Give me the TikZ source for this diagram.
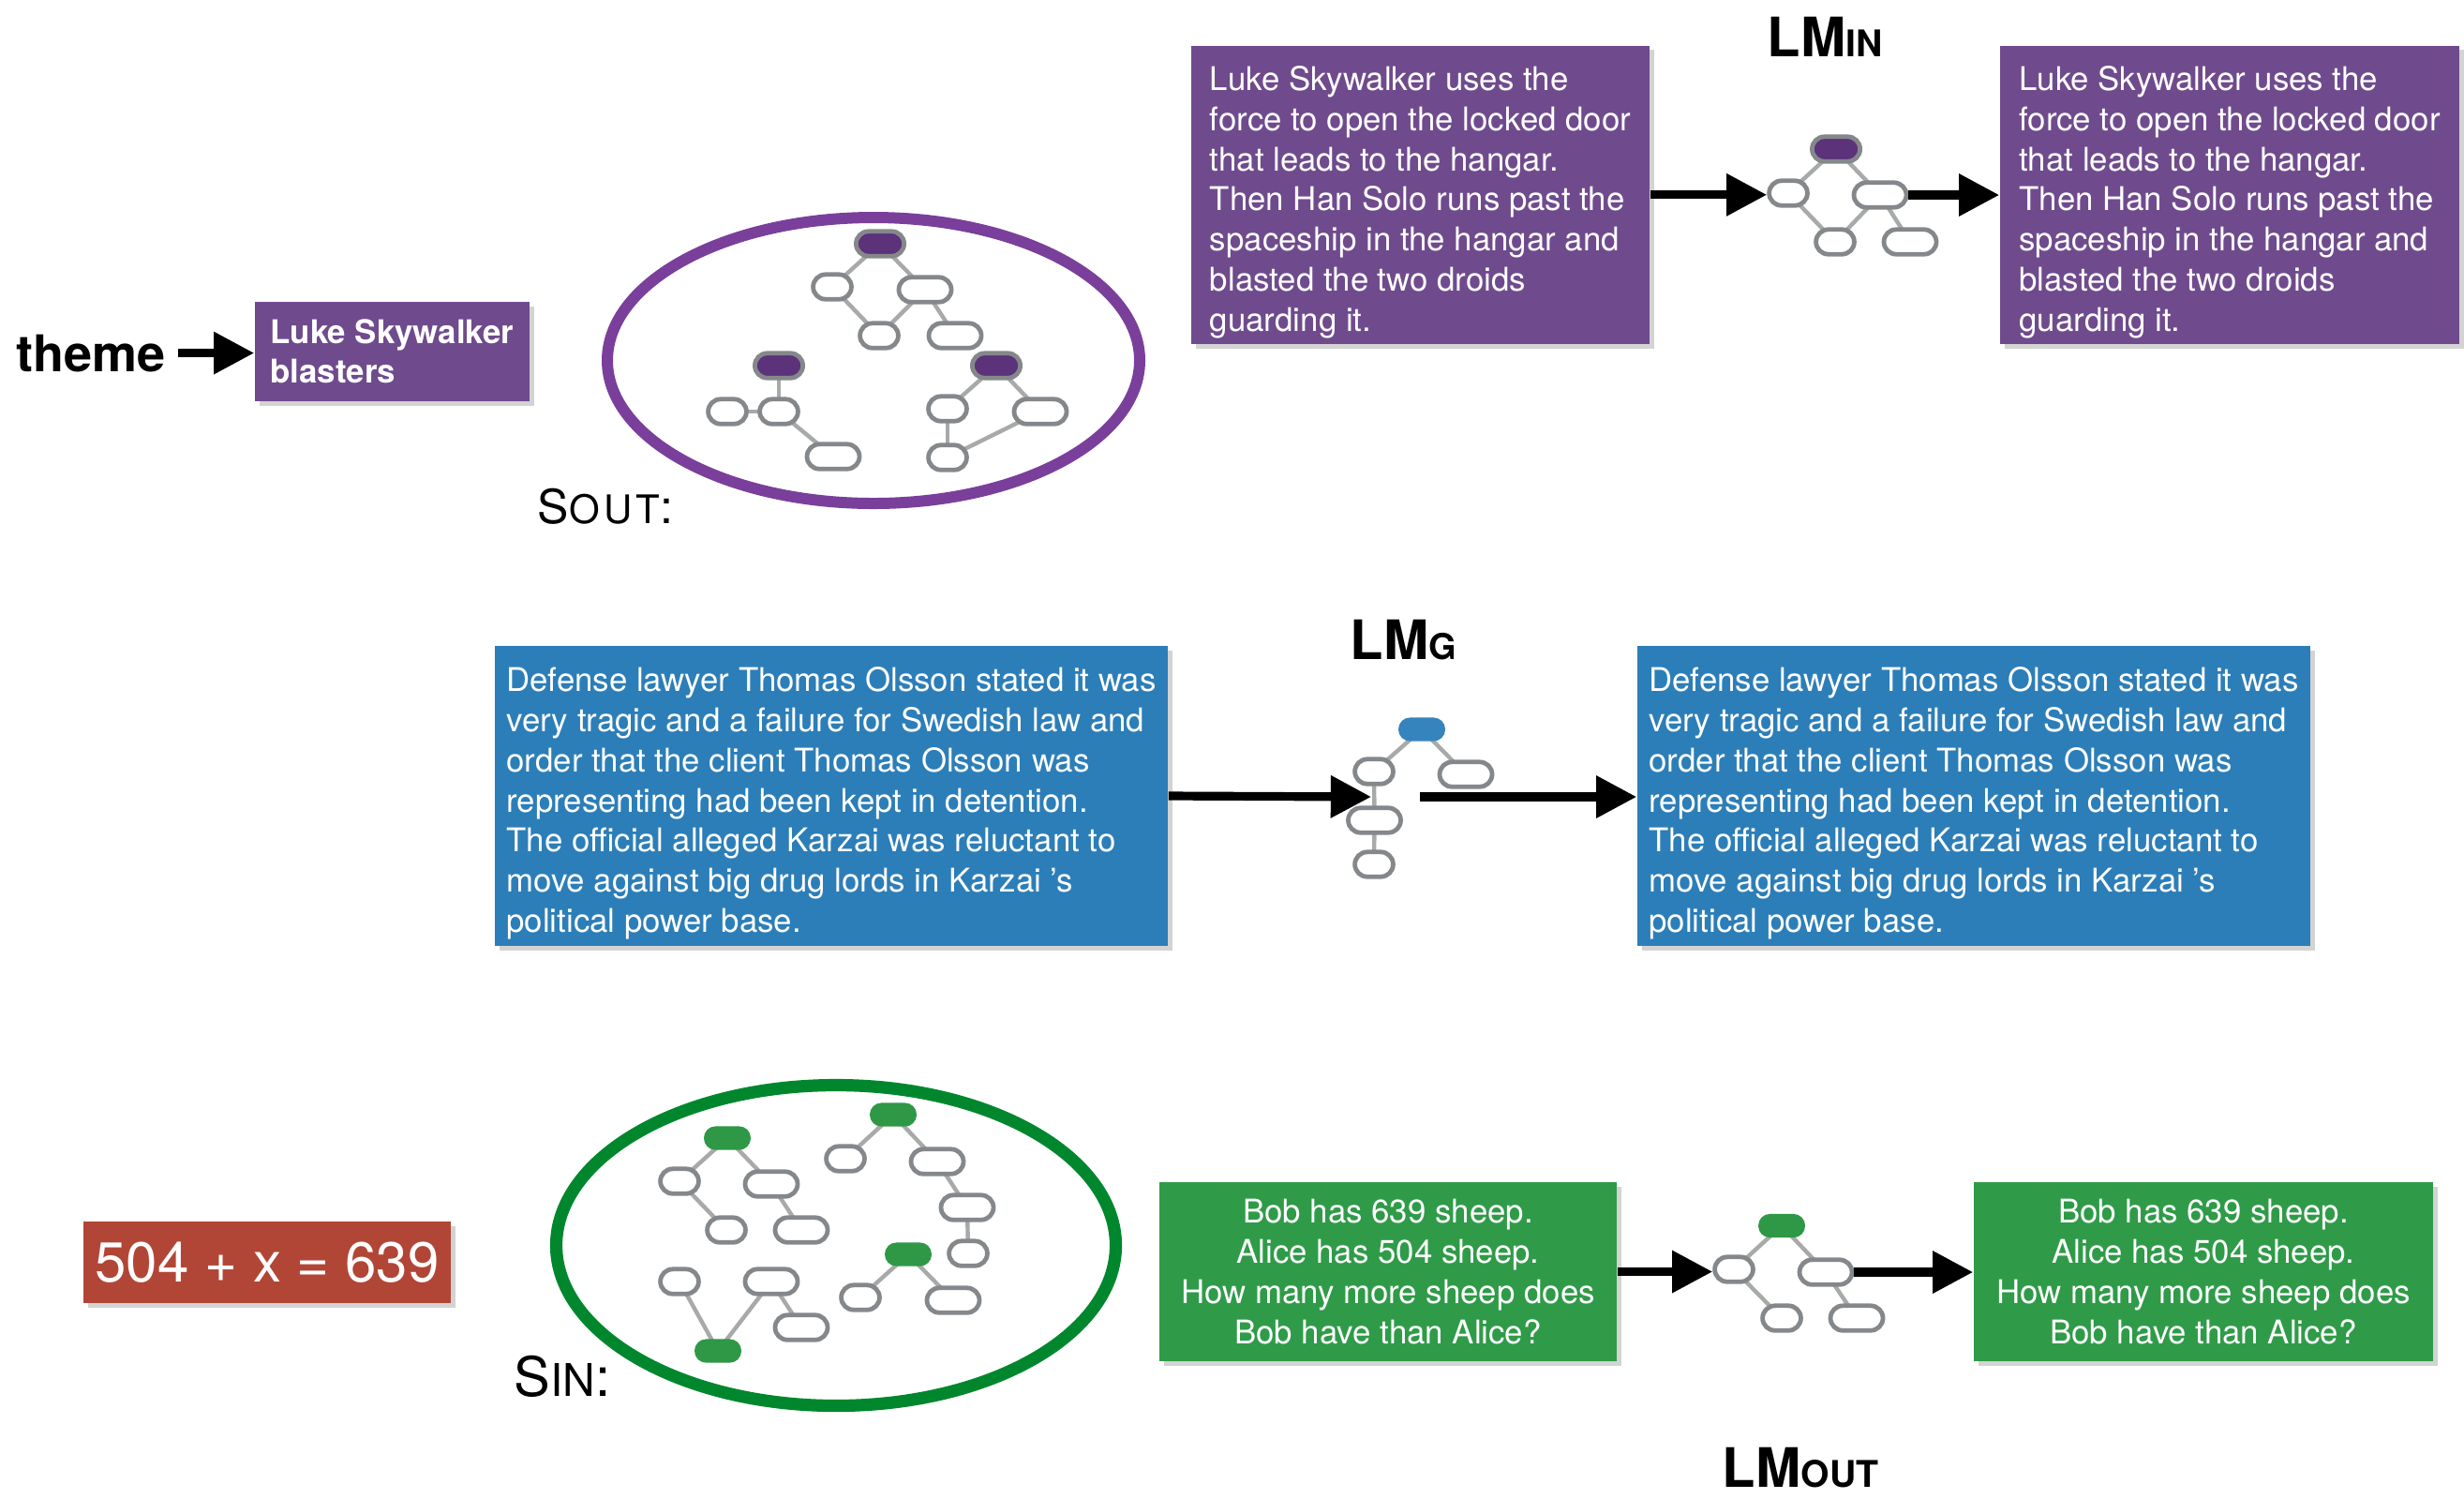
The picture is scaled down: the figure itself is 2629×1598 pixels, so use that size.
\documentclass[tikz,border=0pt]{standalone}
\usepackage{fontspec}
\setmainfont{TeX Gyre Heros}
\usetikzlibrary{arrows.meta,shadows,backgrounds}

\definecolor{boxpurple}{RGB}{111,75,141}
\definecolor{ringpurple}{RGB}{122,63,155}
\definecolor{rootpurple}{RGB}{92,50,122}
\definecolor{boxblue}{RGB}{44,126,184}
\definecolor{rootblue}{RGB}{54,132,190}
\definecolor{boxgreen}{RGB}{47,155,72}
\definecolor{ringgreen}{RGB}{0,135,45}
\definecolor{rootgreen}{RGB}{46,152,70}
\definecolor{boxred}{RGB}{178,70,54}
\definecolor{nodegray}{RGB}{133,136,139}
\definecolor{edgegray}{RGB}{167,170,168}

% taller first line, pushes the story text a little down in its box
\newcommand{\toprule}{\rule{0pt}{10.4pt}}

\tikzset{
  card/.style={fill=#1, text=white, inner xsep=3pt, inner ysep=0pt,
    drop shadow={shadow xshift=1.2pt, shadow yshift=-1.2pt, opacity=0.35}},
  story/.style={font=\fontsize{8.7}{10.7}\selectfont},
  tnode/.style={draw=nodegray, line width=1.2pt, fill=white, rounded corners=3.3pt,
    minimum height=6.6pt, inner sep=0pt},
  tsmall/.style={tnode, minimum width=10.2pt},
  twide/.style={tnode, minimum width=14pt},
  troot/.style={tnode, minimum width=12.8pt, fill=#1},
  tfill/.style={fill=#1, rounded corners=3.1pt, minimum width=12.5pt,
    minimum height=6.3pt, inner sep=0pt},
  tedge/.style={draw=edgegray, line width=1.1pt},
  fat/.style={line width=2.3pt, -{Triangle[length=10.8pt,width=10.8pt]}},
  lm/.style={font=\fontsize{14.5}{14.5}\selectfont\bfseries, inner sep=0pt, anchor=base west},
  setname/.style={font=\fontsize{12.5}{12.5}\selectfont, inner sep=0pt, anchor=base west},
}

\begin{document}
\begin{tikzpicture}[x=0.25pt,y=0.25pt,yscale=-1,xscale=1]
\useasboundingbox (0,0) rectangle (2629,1598);

% top row: theme, output set, LM_in
\node[font=\fontsize{13.5}{13.5}\selectfont\bfseries, inner sep=0pt, anchor=base west] (theme) at (17,396) {theme};
\node[card=boxpurple, font=\fontsize{8.7}{10.5}\selectfont\bfseries, align=left,
  minimum width=73.25pt, minimum height=26.5pt] (blaster) at (418.5,375) {Luke Skywalker\\blasters};
\draw[fat, shorten <=3.2pt] (theme.east) -- (theme.east -| blaster.west);

\draw[ringpurple, line width=3pt] (932,384.5) ellipse [x radius=284, y radius=152.5];
\node[setname] (sout) at (573,558) {S{\fontsize{10.5}{10.5}\selectfont\addfontfeature{LetterSpace=10}OUT}:};

\node[troot=rootpurple] (o1r) at (939,260) {};
\node[tsmall] (o1a) at (888,306) {};
\node[twide] (o1b) at (987,309) {};
\node[tsmall] (o1c) at (938,358) {};
\node[twide] (o1d) at (1019,358) {};
\node[troot=rootpurple] (o2r) at (831,390) {};
\node[tsmall] (o2a) at (776,439) {};
\node[tsmall] (o2b) at (831,439) {};
\node[twide] (o2c) at (889,487) {};
\node[troot=rootpurple] (o3r) at (1063,390) {};
\node[tsmall] (o3a) at (1011,436) {};
\node[twide] (o3b) at (1110,439) {};
\node[tsmall] (o3c) at (1011,488) {};

\node[card=boxpurple, story, align=left, minimum width=122.25pt, minimum height=79.6pt] (instory) at (1515.5,207.8)
  {\toprule Luke Skywalker uses the\\force to open the locked door\\that leads to the hangar.\\Then Han Solo runs past the\\spaceship in the hangar and\\blasted the two droids\\guarding it.};
\node[card=boxpurple, story, align=left, minimum width=122.5pt, minimum height=79.6pt] (outstory) at (2379,207.8)
  {\toprule Luke Skywalker uses the\\force to open the locked door\\that leads to the hangar.\\Then Han Solo runs past the\\spaceship in the hangar and\\blasted the two droids\\guarding it.};
\node[lm] (lmin) at (1885,60) {LM{\fontsize{9.8}{9.8}\selectfont IN}};

\node[troot=rootpurple] (ir) at (1959,159) {};
\node[tsmall] (ia) at (1908,206) {};
\node[twide] (ib) at (2006,208) {};
\node[tsmall] (ic) at (1958,258) {};
\node[twide] (id) at (2038,258) {};
\draw[fat] (instory.east) -- (instory.east -| ia.west);
\draw[fat] (ib.east) -- (ib.east -| outstory.west);

% middle row: LM_g
\node[card=boxblue, story, align=left, minimum width=179.5pt, minimum height=80pt] (gin) at (887,849)
  {\toprule Defense lawyer Thomas Olsson stated it was\\very tragic and a failure for Swedish law and\\order that the client Thomas Olsson was\\representing had been kept in detention.\\The official alleged Karzai was reluctant to\\move against big drug lords in Karzai 's\\political power base.};
\node[card=boxblue, story, align=left, minimum width=179.5pt, minimum height=80pt] (gout) at (2106,849)
  {\toprule Defense lawyer Thomas Olsson stated it was\\very tragic and a failure for Swedish law and\\order that the client Thomas Olsson was\\representing had been kept in detention.\\The official alleged Karzai was reluctant to\\move against big drug lords in Karzai 's\\political power base.};
\node[lm] (lmg) at (1440,703) {LM{\fontsize{9.5}{9.5}\selectfont G}};

\node[tfill=rootblue] (gr) at (1517,778) {};
\node[tsmall] (ga) at (1466,823) {};
\node[twide] (gb) at (1564,826) {};
\node[twide] (gc) at (1466.5,875) {};
\node[tsmall] (gd) at (1466,922) {};
\coordinate (gtip) at (1463,850);
\coordinate (gtail) at (1515,850);
\draw[fat] (gin.east) -- (gtip);
\draw[fat] (gtail) -- (gtail -| gout.west);

% bottom row: equation, input set, LM_out
\node[card=boxred, font=\fontsize{15}{15}\selectfont, minimum width=98pt, minimum height=21.8pt] (eqn) at (285,1346.5) {504 + x = 639};

\draw[ringgreen, line width=3.3pt] (892,1328.5) ellipse [x radius=298.5, y radius=171];
\node[setname, font=\fontsize{14.5}{14.5}\selectfont] (sin) at (548,1489) {S{\fontsize{12}{12}\selectfont IN}:};

\node[tfill=rootgreen] (ar) at (776,1214) {};
\node[tsmall] (a1) at (725,1260) {};
\node[twide] (a2) at (823,1263) {};
\node[tsmall] (a3) at (775,1312) {};
\node[twide] (a4) at (855,1312) {};
\node[tfill=rootgreen] (br) at (953,1189) {};
\node[tsmall] (b1) at (902,1236) {};
\node[twide] (b2) at (1000,1239) {};
\node[twide] (b3) at (1032,1288) {};
\node[tsmall] (b4) at (1033,1337) {};
\node[tfill=rootgreen] (cr) at (969,1338) {};
\node[tsmall] (c1) at (918,1384) {};
\node[twide] (c2) at (1017,1387) {};
\node[tfill=rootgreen] (dr) at (766,1441) {};
\node[tsmall] (d1) at (725,1367) {};
\node[twide] (d2) at (823,1367) {};
\node[twide] (d3) at (855,1416) {};

\node[card=boxgreen, story, align=center, minimum width=122pt, minimum height=47.8pt] (qin) at (1481,1356.5)
  {Bob has 639 sheep.\\Alice has 504 sheep.\\How many more sheep does\\Bob have than Alice?};
\node[card=boxgreen, story, align=center, minimum width=122.5pt, minimum height=47.8pt] (qout) at (2351,1356.5)
  {Bob has 639 sheep.\\Alice has 504 sheep.\\How many more sheep does\\Bob have than Alice?};
\node[lm] (lmout) at (1837,1586) {LM{\fontsize{9.8}{9.8}\selectfont OUT}};

\node[tfill=rootgreen] (qr) at (1901,1307.5) {};
\node[tsmall] (qa) at (1850,1354) {};
\node[twide] (qb) at (1948,1357) {};
\node[tsmall] (qc) at (1901,1406) {};
\node[twide] (qd) at (1981,1406) {};
\draw[fat] (qin.east) -- (qin.east -| qa.west);
\draw[fat] (qb.east) -- (qb.east -| qout.west);

% tree edges behind the nodes
\begin{scope}[on background layer]
\foreach \u/\v in {o1r/o1a,o1r/o1b,o1a/o1c,o1b/o1c,o1b/o1d,o2r/o2b,o2a/o2b,o2b/o2c,
    o3r/o3a,o3r/o3b,o3a/o3c,o3b/o3c,ir/ia,ir/ib,ia/ic,ib/ic,ib/id,
    gr/ga,gr/gb,ga/gc,gc/gd,ar/a1,ar/a2,a1/a3,a2/a4,br/b1,br/b2,b2/b3,b3/b4,
    cr/c1,cr/c2,d1/dr,d2/dr,d2/d3,qr/qa,qr/qb,qa/qc,qb/qd}
  \draw[tedge] (\u.center) -- (\v.center);
\end{scope}

\end{tikzpicture}
\end{document}
